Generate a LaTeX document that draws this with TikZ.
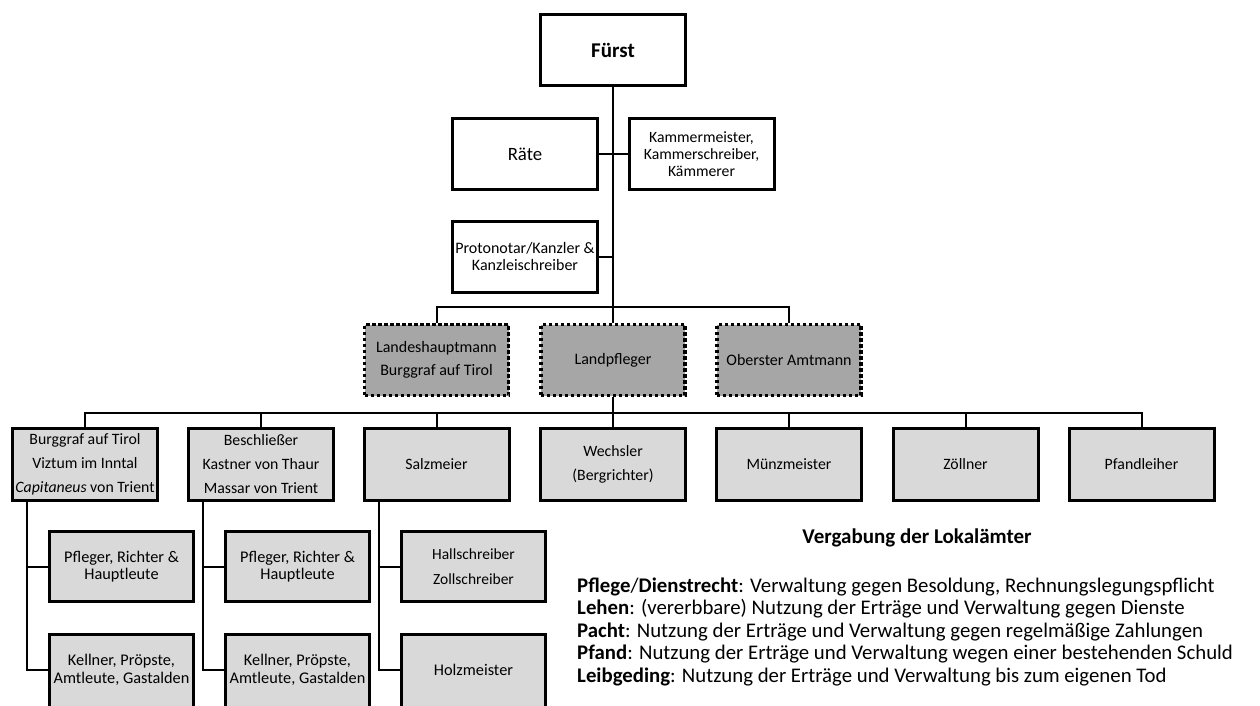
\documentclass[tikz,border=0pt]{standalone}
\usepackage{fontspec}
\setmainfont{Carlito}
\definecolor{darkbox}{HTML}{A6A6A6}
\definecolor{lightbox}{HTML}{D9D9D9}
\begin{document}
\begin{tikzpicture}[x=1pt,y=-1pt,
  topbox/.style={draw=black,line width=3pt,fill=white,minimum width=145pt,minimum height=71pt,inner sep=0pt,align=center},
  dotbox/.style={draw=black,line width=3.2pt,dash pattern=on 3.2pt off 2.8pt,fill=darkbox,minimum width=144pt,minimum height=71pt,inner sep=0pt,align=center,font=\fontsize{16}{23}\selectfont},
  midbox/.style={draw=black,line width=3pt,fill=lightbox,minimum width=145pt,minimum height=72pt,inner sep=0pt,align=center,font=\fontsize{15.8}{24}\selectfont},
  lowbox/.style={draw=black,line width=3pt,fill=lightbox,minimum width=144pt,minimum height=70pt,inner sep=0pt,align=center,font=\fontsize{16.3}{17.5}\selectfont},
  cutbox/.style={draw=black,line width=3pt,fill=lightbox,minimum width=144pt,minimum height=84pt,inner sep=0pt},
  cuttext/.style={align=center,inner sep=0pt,font=\fontsize{16.3}{17.5}\selectfont,yshift=6.5pt},
  conn/.style={draw=black,line width=2pt},
  trunk/.style={draw=black,line width=2.6pt},
  legend/.style={anchor=base west,inner sep=0pt,font=\fontsize{20.8}{22}\selectfont}]
\useasboundingbox (0,0) rectangle (1260,705);
\fill[white] (0,0) rectangle (1260,705);
\clip (0,0) rectangle (1260,705);

\node[topbox,font=\fontsize{21}{22}\selectfont\bfseries] (fuerst) at (613,50) {Fürst};
\node[topbox,font=\fontsize{18.8}{22}\selectfont] (raete) at (525,154) {Räte};
\node[topbox,font=\fontsize{15.7}{17}\selectfont] (kammer) at (701.5,154) {Kammermeister,\\Kammerschreiber,\\Kämmerer};
\node[topbox,font=\fontsize{16}{17.5}\selectfont] (proto) at (525,256.5) {Protonotar/Kanzler \&\\Kanzleischreiber};

\node[dotbox] (lh) at (436.5,360) {Landeshauptmann\\Burggraf auf Tirol};
\node[dotbox] (lp) at (613,360) {Landpfleger};
\node[dotbox] (om) at (789,360) {Oberster Amtmann};

\node[midbox] (b1) at (85,464) {Burggraf auf Tirol\\Viztum im Inntal\\\textit{Capitaneus} von Trient};
\node[midbox] (b2) at (261,464) {Beschließer\\Kastner von Thaur\\Massar von Trient};
\node[midbox] (b3) at (436.5,464) {Salzmeier};
\node[midbox] (b4) at (613,464) {Wechsler\\(Bergrichter)};
\node[midbox] (b5) at (789,464) {Münzmeister};
\node[midbox] (b6) at (965.5,464) {Zöllner};
\node[midbox] (b7) at (1141.5,464) {Pfandleiher};

\node[lowbox] (c11) at (121.5,566.5) {Pfleger, Richter \&\\Hauptleute};
\node[cutbox,label={[cuttext]center:Kellner, Pröpste,\\Amtleute, Gastalden}] (c12) at (121.5,676.5) {};
\node[lowbox] (c21) at (297.5,566.5) {Pfleger, Richter \&\\Hauptleute};
\node[cutbox,label={[cuttext]center:Kellner, Pröpste,\\Amtleute, Gastalden}] (c22) at (297.5,676.5) {};
\node[lowbox,font=\fontsize{15.5}{25}\selectfont] (c31) at (473.5,566.5) {Hallschreiber\\Zollschreiber};
\node[cutbox,label={[cuttext]center:Holzmeister}] (c32) at (473.5,676.5) {};

% connectors
\draw[trunk] (fuerst.south) -- (lp.north);
\draw[conn] (raete.east) -- (kammer.west);
\draw[conn] (proto.east) -- (proto.east -| fuerst.south);
\draw[conn] (lh.north) -- ++(0,-16) -| (om.north);
\draw[conn] (lp.south) -- (b4.north);
\draw[conn] (b1.north) -- ++(0,-14) -| (b7.north);
\foreach \b in {b2,b3,b5,b6} \draw[conn] (\b.north) -- ++(0,-14);
\draw[conn] ([xshift=16pt]b1.south west) |- (c11.west);
\draw[conn] ([xshift=16pt]b1.south west) |- ([yshift=6.5pt]c12.west);
\draw[conn] ([xshift=16pt]b2.south west) |- (c21.west);
\draw[conn] ([xshift=16pt]b2.south west) |- ([yshift=6.5pt]c22.west);
\draw[conn] ([xshift=16pt]b3.south west) |- (c31.west);
\draw[conn] ([xshift=16pt]b3.south west) |- ([yshift=6.5pt]c32.west);

% legend
\node[anchor=base,inner sep=0pt,font=\fontsize{21}{22}\selectfont\bfseries] (ltitle) at (917,543) {Vergabung der Lokalämter};
\node[legend] (l1) at (577,592) {\textbf{Pflege}/\textbf{Dienstrecht}: Verwaltung gegen Besoldung, Rechnungslegungspflicht};
\node[legend] (l2) at (577,614.5) {\textbf{Lehen}: (vererbbare) Nutzung der Erträge und Verwaltung gegen Dienste};
\node[legend] (l3) at (577,637) {\textbf{Pacht}: Nutzung der Erträge und Verwaltung gegen regelmäßige Zahlungen};
\node[legend] (l4) at (577,659.5) {\textbf{Pfand}: Nutzung der Erträge und Verwaltung wegen einer bestehenden Schuld};
\node[legend] (l5) at (577,682) {\textbf{Leibgeding}: Nutzung der Erträge und Verwaltung bis zum eigenen Tod};
\end{tikzpicture}
\end{document}
